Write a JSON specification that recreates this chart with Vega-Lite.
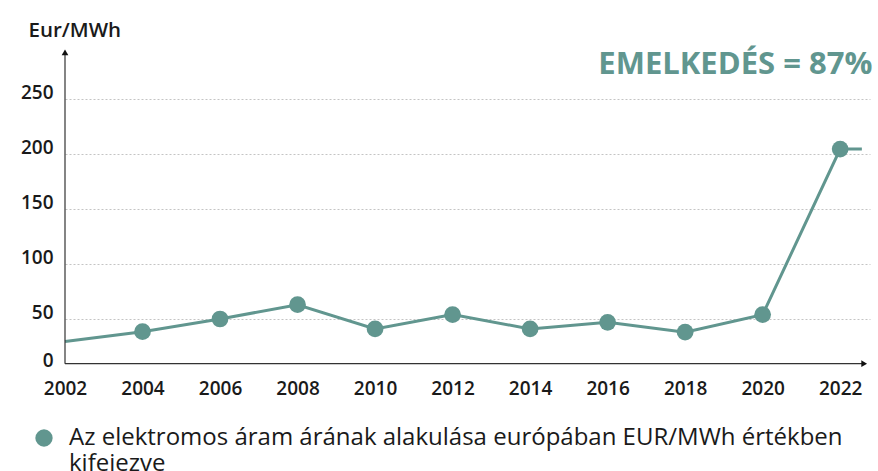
{
  "$schema": "https://vega.github.io/schema/vega-lite/v6.json",
  "autosize": "none",
  "width": 805,
  "height": 326,
  "padding": {"left": 65, "top": 48, "right": 8, "bottom": 97},
  "background": "white",
  "config": {
    "view": {"stroke": null},
    "font": "Open Sans"
  },
  "datasets": {
    "line": [
      {"year": 2002, "price": 29.5},
      {"year": 2004, "price": 38.5},
      {"year": 2006, "price": 50},
      {"year": 2008, "price": 63},
      {"year": 2010, "price": 41},
      {"year": 2012, "price": 54},
      {"year": 2014, "price": 41},
      {"year": 2016, "price": 47},
      {"year": 2018, "price": 38},
      {"year": 2020, "price": 54},
      {"year": 2022, "price": 204.5},
      {"year": 2022.56, "price": 204.5}
    ],
    "points": [
      {"year": 2004, "price": 38.5, "series": "Az elektromos áram árának alakulása európában EUR/MWh értékben kifejezve"},
      {"year": 2006, "price": 50, "series": "Az elektromos áram árának alakulása európában EUR/MWh értékben kifejezve"},
      {"year": 2008, "price": 63, "series": "Az elektromos áram árának alakulása európában EUR/MWh értékben kifejezve"},
      {"year": 2010, "price": 41, "series": "Az elektromos áram árának alakulása európában EUR/MWh értékben kifejezve"},
      {"year": 2012, "price": 54, "series": "Az elektromos áram árának alakulása európában EUR/MWh értékben kifejezve"},
      {"year": 2014, "price": 41, "series": "Az elektromos áram árának alakulása európában EUR/MWh értékben kifejezve"},
      {"year": 2016, "price": 47, "series": "Az elektromos áram árának alakulása európában EUR/MWh értékben kifejezve"},
      {"year": 2018, "price": 38, "series": "Az elektromos áram árának alakulása európában EUR/MWh értékben kifejezve"},
      {"year": 2020, "price": 54, "series": "Az elektromos áram árának alakulása európában EUR/MWh értékben kifejezve"},
      {"year": 2022, "price": 204.5, "series": "Az elektromos áram árának alakulása európában EUR/MWh értékben kifejezve"}
    ],
    "one": [{"note": "EMELKEDÉS = 87%"}]
  },
  "layer": [
    {
      "data": {"name": "line"},
      "mark": {"type": "line", "color": "#61968f", "strokeWidth": 3},
      "encoding": {
        "x": {
          "field": "year", "type": "quantitative",
          "scale": {"domain": [2002, 2022.77], "nice": false, "zero": false},
          "axis": {
            "values": [2002, 2004, 2006, 2008, 2010, 2012, 2014, 2016, 2018, 2020, 2022],
            "format": "d", "title": null, "grid": false, "domain": false, "ticks": false, "tickSize": 0,
            "labelPadding": 14, "labelBaseline": "middle",
            "labelFont": "Open Sans", "labelFontSize": 19, "labelFontWeight": 600, "labelColor": "#1a1a1a",
            "labelFlush": false, "labelOverlap": false
          }
        },
        "y": {
          "field": "price", "type": "quantitative",
          "scale": {"domain": [0, 296.4], "nice": false},
          "axis": {
            "values": [0, 50, 100, 150, 200, 250],
            "title": "Eur/MWh", "titleAngle": 0, "titleAlign": "left", "titleBaseline": "alphabetic",
            "titleX": -37, "titleY": -12, "titleFont": "Open Sans", "titleFontSize": 20.5, "titleFontWeight": 600, "titleColor": "#1a1a1a",
            "domain": false, "ticks": false, "tickSize": 0,
            "grid": true, "gridColor": "#c4c4c4", "gridDash": [2, 2], "gridWidth": 1,
            "gridOpacity": {"condition": {"test": "datum.value == 0", "value": 0}, "value": 1},
            "labelPadding": 12, "labelBaseline": "alphabetic",
            "labelOffset": {"condition": {"test": "datum.value == 0", "value": -8}, "value": -1},
            "labelFont": "Open Sans", "labelFontSize": 19, "labelFontWeight": 600, "labelColor": "#1a1a1a"
          }
        }
      }
    },
    {
      "data": {"name": "points"},
      "mark": {"type": "point", "filled": true, "opacity": 1, "shape": "circle", "size": 280},
      "encoding": {
        "x": {"field": "year", "type": "quantitative"},
        "y": {"field": "price", "type": "quantitative"},
        "color": {
          "field": "series", "type": "nominal",
          "scale": {"range": ["#61968f"]},
          "legend": {
            "title": null, "orient": "none", "legendX": -33, "legendY": 378,
            "symbolType": "circle", "symbolSize": 300, "symbolOpacity": 1,
            "labelFont": "Open Sans", "labelFontSize": 24, "labelColor": "#1a1a1a", "labelLimit": 900,
            "labelOffset": 13, "labelBaseline": "middle",
            "labelExpr": "['Az elektromos áram árának alakulása európában EUR/MWh értékben', 'kifejezve']"
          }
        }
      }
    },
    {
      "data": {"name": "one"},
      "mark": {"type": "rule", "color": "#333333", "strokeWidth": 1.2},
      "encoding": {
        "x": {"datum": 2002},
        "x2": {"datum": 2022.6},
        "y": {"datum": 9.4}
      }
    },
    {
      "data": {"name": "one"},
      "mark": {"type": "rule", "color": "#333333", "strokeWidth": 1.2},
      "encoding": {
        "x": {"datum": 2002},
        "y": {"datum": 9.4},
        "y2": {"datum": 292}
      }
    },
    {
      "data": {"name": "one"},
      "mark": {"type": "point", "shape": "triangle-right", "filled": true, "color": "#111111", "size": 45, "opacity": 1},
      "encoding": {
        "x": {"datum": 2022.62},
        "y": {"datum": 9.4}
      }
    },
    {
      "data": {"name": "one"},
      "mark": {"type": "point", "shape": "triangle-up", "filled": true, "color": "#111111", "size": 45, "opacity": 1},
      "encoding": {
        "x": {"datum": 2002},
        "y": {"datum": 292.5}
      }
    },
    {
      "data": {"name": "one"},
      "mark": {"type": "text", "align": "right", "baseline": "middle", "font": "Open Sans", "fontSize": 31, "fontWeight": "bold", "color": "#61968f"},
      "encoding": {
        "x": {"datum": 2022.83},
        "y": {"datum": 281.2},
        "text": {"field": "note"}
      }
    }
  ]
}
